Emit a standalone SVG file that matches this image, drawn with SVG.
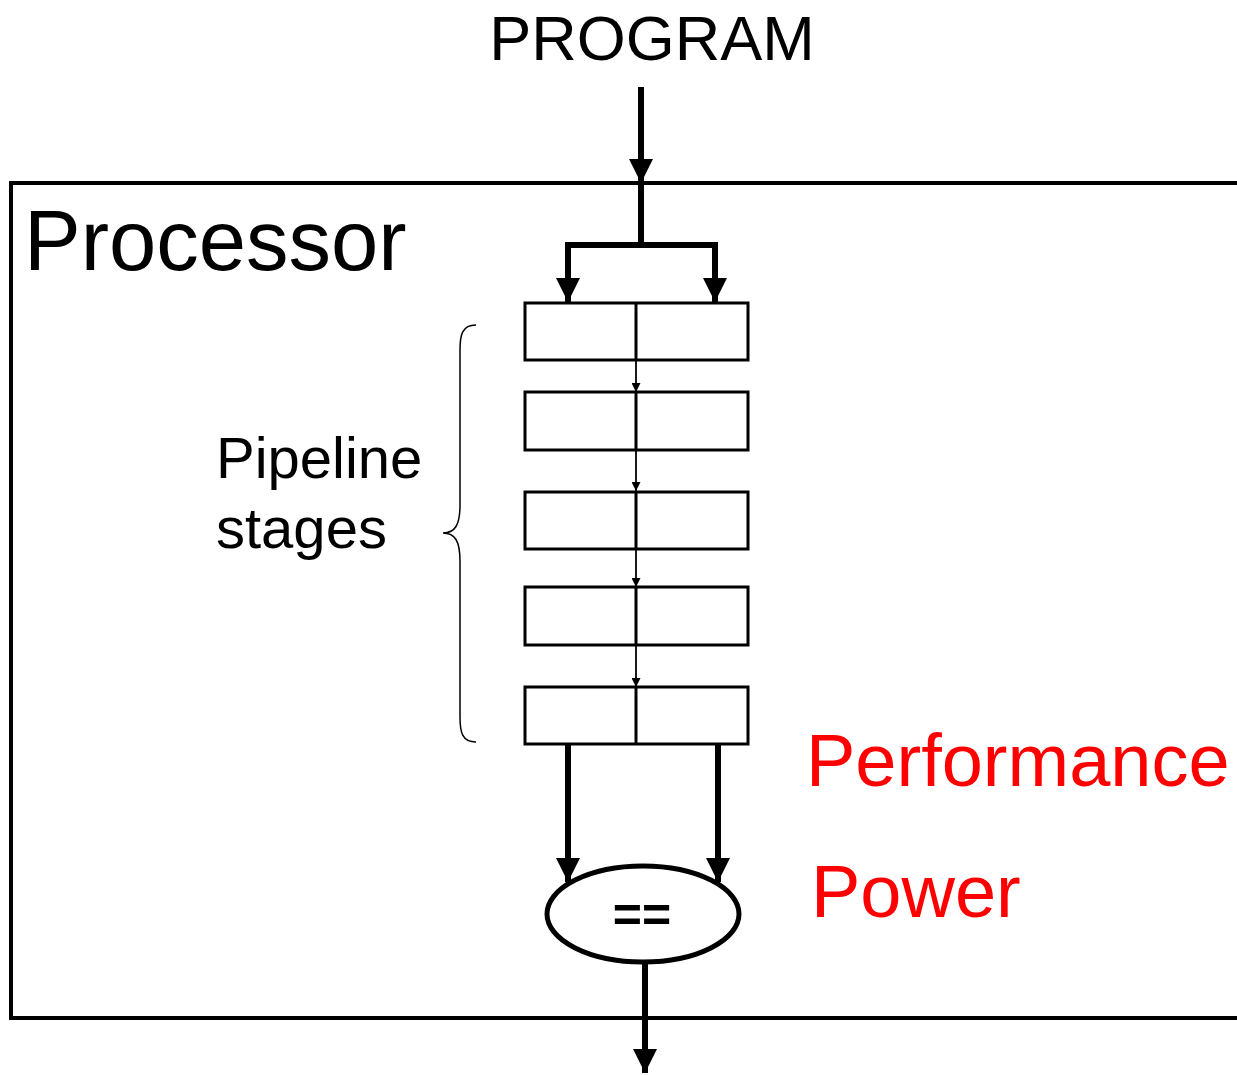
<svg xmlns="http://www.w3.org/2000/svg" width="1237" height="1075" viewBox="0 0 1237 1075">
<defs>
<marker id="big" viewBox="0 0 10 10" refX="10" refY="5" markerWidth="24" markerHeight="24" markerUnits="userSpaceOnUse" orient="auto"><path d="M0,0 L10,5 L0,10 Z" fill="#000"/></marker>
<marker id="small" viewBox="0 0 10 10" refX="10" refY="5" markerWidth="9" markerHeight="9" markerUnits="userSpaceOnUse" orient="auto"><path d="M0,0 L10,5 L0,10 Z" fill="#000"/></marker>
</defs>
<style>
.t{font-family:"Liberation Sans",Arial,sans-serif;}
.box{fill:#fff;stroke:#000;stroke-width:3;}
.thick{fill:none;stroke:#000;stroke-width:6;}
.thin{fill:none;stroke:#000;stroke-width:1.8;}
.red{fill:#ff0000;}
</style>
<rect id="processor" x="11" y="183" width="1240" height="835" fill="none" stroke="#000" stroke-width="4"/>
<text class="t" x="652" y="60" font-size="63" text-anchor="middle">PROGRAM</text>
<text class="t" x="24" y="270" font-size="85">Processor</text>
<g id="stage1"><rect class="box" x="525" y="303" width="223" height="57"/><line x1="636" y1="303" x2="636" y2="360" stroke="#000" stroke-width="3"/></g>
<g id="stage2"><rect class="box" x="525" y="392" width="223" height="58"/><line x1="636" y1="392" x2="636" y2="450" stroke="#000" stroke-width="3"/></g>
<g id="stage3"><rect class="box" x="525" y="492" width="223" height="57"/><line x1="636" y1="492" x2="636" y2="549" stroke="#000" stroke-width="3"/></g>
<g id="stage4"><rect class="box" x="525" y="587" width="223" height="58"/><line x1="636" y1="587" x2="636" y2="645" stroke="#000" stroke-width="3"/></g>
<g id="stage5"><rect class="box" x="525" y="687" width="223" height="57"/><line x1="636" y1="687" x2="636" y2="744" stroke="#000" stroke-width="3"/></g>
<g id="compare"><ellipse cx="643" cy="914" rx="96" ry="48" fill="#fff" stroke="#000" stroke-width="5"/><text class="t" x="642" y="932" font-size="50" font-weight="bold" text-anchor="middle">==</text></g>
<g id="labels">
<text class="t" x="216" y="478" font-size="58">Pipeline</text>
<text class="t" x="216" y="548" font-size="58">stages</text>
<path d="M476,325 C462,325 460,335 460,350 L460,505 C460,525 455,533 443,533 C455,533 460,541 460,561 L460,717 C460,732 462,742 476,742" fill="none" stroke="#000" stroke-width="1.5"/>
<text class="t red" x="806" y="786" font-size="74">Performance</text>
<text class="t red" x="811" y="917" font-size="74">Power</text>
</g>
<g id="connectors">
<line class="thick" x1="641" y1="87" x2="641" y2="183" marker-end="url(#big)"/>
<polyline class="thick" points="641,183 641,245"/>
<polyline class="thick" points="568,285 568,245 715,245 715,285"/>
<line class="thick" x1="568" y1="270" x2="568" y2="302" marker-end="url(#big)"/>
<line class="thick" x1="715" y1="270" x2="715" y2="302" marker-end="url(#big)"/>
<line class="thin" x1="636" y1="360" x2="636" y2="392" marker-end="url(#small)"/>
<line class="thin" x1="636" y1="450" x2="636" y2="491" marker-end="url(#small)"/>
<line class="thin" x1="636" y1="549" x2="636" y2="587" marker-end="url(#small)"/>
<line class="thin" x1="636" y1="645" x2="636" y2="687" marker-end="url(#small)"/>
<line class="thick" x1="568" y1="745" x2="568" y2="882" marker-end="url(#big)"/>
<line class="thick" x1="718" y1="745" x2="718" y2="882" marker-end="url(#big)"/>
<line class="thick" x1="645" y1="962" x2="645" y2="1073" marker-end="url(#big)"/>
</g>
</svg>
